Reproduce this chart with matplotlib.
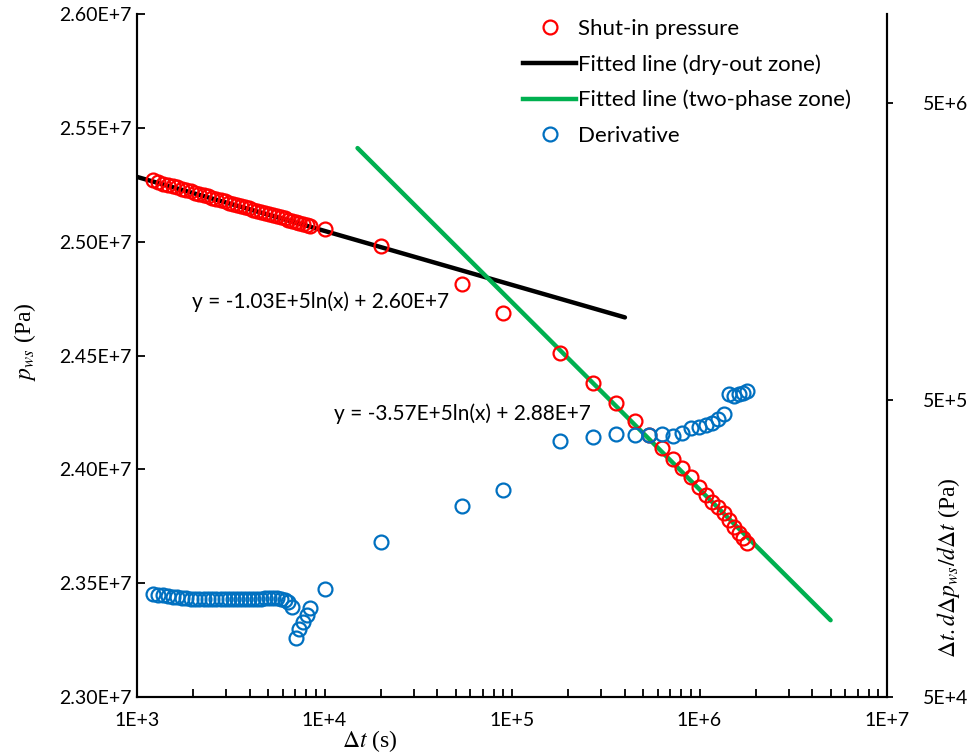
import numpy as np
import matplotlib
matplotlib.use("Agg")
import matplotlib.pyplot as plt
from matplotlib.ticker import FixedLocator, FuncFormatter, NullLocator
from matplotlib.lines import Line2D

plt.rcParams['font.family'] = ['Lato', 'DejaVu Sans']
plt.rcParams['mathtext.fontset'] = 'stix'

# shut-in time (s)
dt = [1220, 1300, 1380, 1460, 1550, 1640, 1730, 1830, 1930, 2040,
      2150, 2270, 2390, 2520, 2650, 2790, 2940, 3090, 3250, 3420,
      3600, 3780, 3970, 4170, 4380, 4600, 4830, 5070, 5320, 5580,
      5850, 6130, 6420, 6720, 7030, 7350, 7680, 8020, 8370,
      1.0e4, 2.0e4, 5.4e4, 9.0e4, 1.8e5, 2.7e5, 3.6e5, 4.5e5, 5.4e5,
      6.3e5, 7.2e5, 8.1e5, 9.0e5, 9.9e5, 1.08e6, 1.17e6, 1.26e6,
      1.35e6, 1.44e6, 1.53e6, 1.62e6, 1.71e6, 1.80e6]

# shut-in pressure (x1E+7 Pa)
p_ws = [2.5270, 2.5262, 2.5255, 2.5249, 2.5243, 2.5238, 2.5232, 2.5226, 2.5221, 2.5215,
        2.5210, 2.5204, 2.5199, 2.5193, 2.5188, 2.5183, 2.5177, 2.5172, 2.5167, 2.5162,
        2.5157, 2.5152, 2.5146, 2.5141, 2.5136, 2.5131, 2.5126, 2.5121, 2.5116, 2.5111,
        2.5107, 2.5102, 2.5097, 2.5092, 2.5088, 2.5083, 2.5079, 2.5074, 2.5070,
        2.5056, 2.4983, 2.4814, 2.4687, 2.4511, 2.4380, 2.4290, 2.4212, 2.4151,
        2.4092, 2.4044, 2.4005, 2.3965, 2.3924, 2.3887, 2.3858, 2.3836,
        2.3807, 2.3777, 2.3748, 2.3719, 2.3697, 2.3675]

# pressure derivative (Pa)
deriv = [1.108e5, 1.104e5, 1.100e5, 1.091e5, 1.087e5, 1.083e5, 1.079e5, 1.075e5, 1.073e5, 1.071e5,
         1.069e5, 1.067e5, 1.067e5, 1.069e5, 1.067e5, 1.067e5, 1.069e5, 1.067e5, 1.069e5, 1.067e5,
         1.067e5, 1.069e5, 1.071e5, 1.071e5, 1.073e5, 1.073e5, 1.075e5, 1.075e5, 1.075e5, 1.075e5,
         1.071e5, 1.058e5, 1.042e5, 1.002e5, 7.89e4, 8.46e4, 8.93e4, 9.42e4, 9.95e4,
         1.152e5, 1.67e5, 2.205e5, 2.49e5, 3.64e5, 3.76e5, 3.85e5, 3.81e5, 3.83e5,
         3.85e5, 3.78e5, 3.87e5, 4.02e5, 4.06e5, 4.14e5, 4.19e5, 4.31e5,
         4.50e5, 5.23e5, 5.16e5, 5.23e5, 5.29e5, 5.36e5]

# semilog fits p = a*ln(dt) + b
fit_dry = (-1.03e5, 2.5996e7, [1.0e3, 4.0e5])
fit_two = (-3.57e5, 2.8844e7, [1.5e4, 5.0e6])

fig = plt.figure(figsize=(9.67, 7.54), dpi=100)
ax = fig.add_axes([0.1417, 0.0756, 0.7756, 0.9058])
ax2 = ax.twinx()

dt = np.array(dt)
ax.plot(dt, np.array(p_ws) * 1e7, 'o', mfc='none', mec='#FF0000', ms=10, mew=1.6,
        zorder=3)
for (a, b, xs), col in [(fit_dry, 'black'), (fit_two, '#00B050')]:
    xs = np.array(xs)
    ax.plot(xs, a * np.log(xs) + b, color=col, lw=3.2, solid_capstyle='round', zorder=2)
ax2.plot(dt, deriv, 'o', mfc='none', mec='#0070C0', ms=10, mew=1.6)

ax.set_xscale('log')
ax.set_xlim(1e3, 1e7)
ax.set_ylim(2.30e7, 2.60e7)
ax.set_yticks(np.arange(2.30e7, 2.6001e7, 0.05e7))
ax.yaxis.set_major_formatter(FuncFormatter(lambda v, _: f"{v/1e7:.2f}E+7"))
ax.xaxis.set_major_formatter(FuncFormatter(lambda v, _: f"1E+{int(round(np.log10(v)))}"))
ax.xaxis.set_minor_formatter(FuncFormatter(lambda v, _: ""))

ax2.set_yscale('log')
ax2.set_ylim(5e4, 1e7)
ax2.yaxis.set_major_locator(FixedLocator([5e4, 5e5, 5e6]))
ax2.yaxis.set_minor_locator(NullLocator())
ax2.yaxis.set_major_formatter(FuncFormatter(lambda v, _: f"5E+{int(round(np.log10(v / 5)))}"))

for a_ in (ax, ax2):
    a_.spines['top'].set_visible(False)
    for s in a_.spines.values():
        s.set_linewidth(1.5)
ax.tick_params(axis='both', which='both', direction='in', length=6, width=1.3,
               labelsize=14)
ax.tick_params(axis='x', pad=11)
ax.tick_params(axis='y', pad=4)
ax2.tick_params(axis='y', which='both', direction='out', length=4, width=1.3,
                labelsize=14, pad=22)

ax.set_xlabel(r'$\Delta t$ (s)', family='Liberation Serif', fontsize=17)
ax.xaxis.set_label_coords(0.31, -0.045)
ax.set_ylabel(r'$p_{ws}$ (Pa)', family='Liberation Serif', fontsize=17)
ax.yaxis.set_label_coords(-0.132, 0.52)
ax2.set_ylabel(r'$\Delta t.d\Delta p_{ws}/d\Delta t$ (Pa)', family='Liberation Serif',
               fontsize=17)
ax2.yaxis.set_label_coords(1.064, 0.19)

ax.text(9.57e3, 2.4735e7, 'y = -1.03E+5ln(x) + 2.60E+7', ha='center', va='center',
        fontsize=15)
ax.text(5.41e4, 2.4243e7, 'y = -3.57E+5ln(x) + 2.88E+7', ha='center', va='center',
        fontsize=15)

handles = [
    Line2D([], [], ls='none', marker='o', mfc='none', mec='#FF0000', ms=10, mew=1.6),
    Line2D([], [], color='black', lw=3.2),
    Line2D([], [], color='#00B050', lw=3.2),
    Line2D([], [], ls='none', marker='o', mfc='none', mec='#0070C0', ms=10, mew=1.6),
]
labels = ['Shut-in pressure', 'Fitted line (dry-out zone)',
          'Fitted line (two-phase zone)', 'Derivative']
ax2.legend(handles, labels, loc='upper right', bbox_to_anchor=(0.978, 1.022),
           frameon=False, fontsize=16, handlelength=2.4, handletextpad=0.05,
           labelspacing=0.68)

fig.savefig('out.png', dpi=100)
